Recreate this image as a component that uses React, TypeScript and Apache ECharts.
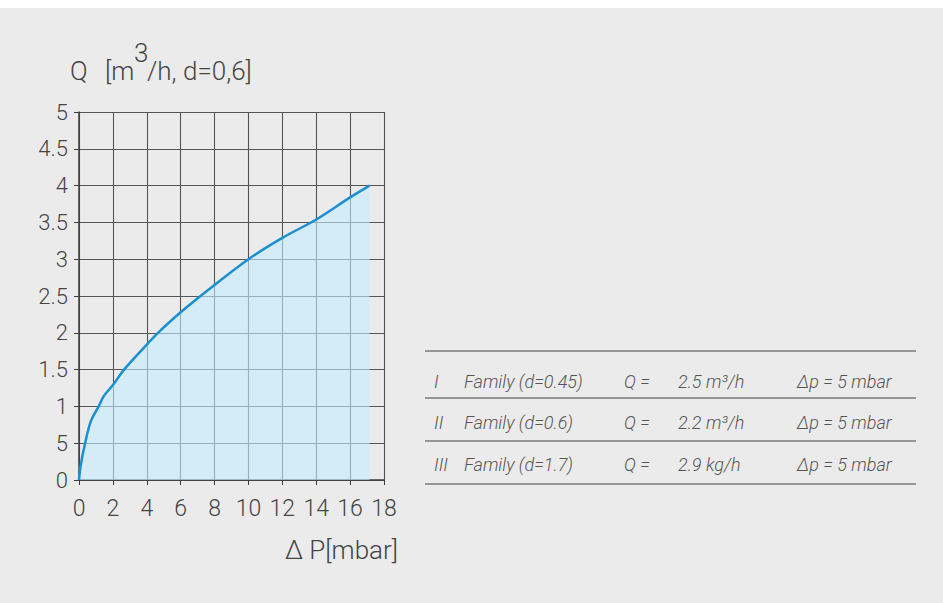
import React, { useEffect, useRef } from "react";
import * as echarts from "echarts";

const pressureDrop = [0, 0.1, 0.36, 0.7, 1.16, 1.46, 2, 2.66, 4, 4.66, 6, 8, 10, 12, 14, 16, 17.15];
const flowRate = [0, 0.2, 0.5, 0.8, 1.0, 1.14, 1.29, 1.5, 1.84, 2.0, 2.28, 2.65, 3.0, 3.29, 3.54, 3.84, 4.0];
const yTickLabels = ["0", "5", "1", "1.5", "2", "2.5", "3", "3.5", "4", "4.5", "5"];
const familyRoman = ["I", "II", "III"];
const familyNames = ["Family (d=0.45)", "Family (d=0.6)", "Family (d=1.7)"];
const flowTexts = ["2.5 m³/h", "2.2 m³/h", "2.9 kg/h"];
const dropTexts = ["Δp = 5 mbar", "Δp = 5 mbar", "Δp = 5 mbar"];

const FONT = "Roboto, 'Liberation Sans', sans-serif";

export default function App() {
  const ref = useRef<HTMLDivElement>(null);
  useEffect(() => {
    document.body.style.margin = "0";
    const chart = echarts.init(ref.current!, null, { renderer: "svg" });
    const lineYs = [351, 398, 441, 484];
    const rowYs = [381, 422, 464];
    const tableTexts: any[] = [];
    lineYs.forEach((y) =>
      tableTexts.push({
        type: "line",
        shape: { x1: 425, y1: y, x2: 916, y2: y },
        style: { stroke: "#7a7a7a", lineWidth: 1.5 },
      })
    );
    const cols = [
      { x: 434, arr: familyRoman },
      { x: 464, arr: familyNames },
      { x: 624, arr: rowYs.map(() => "Q =") },
      { x: 678, arr: flowTexts },
      { x: 797, arr: dropTexts },
    ];
    cols.forEach((c) =>
      c.arr.forEach((t, i) =>
        tableTexts.push({
          type: "text",
          x: c.x,
          y: rowYs[i],
          style: {
            text: t,
            fill: "#555",
            font: `italic 300 18px ${FONT}`,
            verticalAlign: "middle",
            align: "left",
          },
        })
      )
    );
    const titleFont = `300 26px ${FONT}`;
    chart.setOption({
      animation: false,
      backgroundColor: "#ffffff",
      grid: { left: 79, right: 559, top: 112, bottom: 123, show: false },
      graphic: [
        {
          type: "rect",
          z: -20,
          shape: { x: 0, y: 8, width: 943, height: 595 },
          style: { fill: "#ecebeb" },
        },
        { type: "text", x: 70, y: 84, style: { text: "Q", font: titleFont, fill: "#444", verticalAlign: "bottom" } },
        { type: "text", x: 105, y: 84, style: { text: "[m", font: titleFont, fill: "#444", verticalAlign: "bottom" } },
        { type: "text", x: 134, y: 66, style: { text: "3", font: titleFont, fill: "#444", verticalAlign: "bottom" } },
        { type: "text", x: 147, y: 84, style: { text: "/h, d=0,6]", font: titleFont, fill: "#444", verticalAlign: "bottom" } },
        {
          type: "text",
          x: 398,
          y: 563,
          style: {
            text: "Δ P[mbar]",
            font: titleFont,
            fill: "#444",
            align: "right",
            verticalAlign: "bottom",
          },
        },
        ...tableTexts,
      ],
      xAxis: {
        type: "value",
        min: 0,
        max: 18,
        interval: 2,
        axisLine: { show: true, lineStyle: { color: "#3c3c3c", width: 1.5 } },
        axisTick: { show: true, length: 5, lineStyle: { color: "#3c3c3c" } },
        axisLabel: { color: "#444", fontSize: 23, fontFamily: FONT, fontWeight: 300, margin: 17 },
        splitLine: { show: true, lineStyle: { color: "#555", width: 1.1 } },
      },
      yAxis: {
        type: "value",
        min: 0,
        max: 5,
        interval: 0.5,
        axisLine: { show: true, lineStyle: { color: "#3c3c3c", width: 1.5 } },
        axisTick: { show: true, length: 5, lineStyle: { color: "#3c3c3c" } },
        axisLabel: {
          color: "#444",
          fontSize: 22,
          fontFamily: FONT,
          fontWeight: 300,
          margin: 11,
          formatter: (v: number) => yTickLabels[Math.round(v / 0.5)] ?? String(v),
        },
        splitLine: { show: true, lineStyle: { color: "#555", width: 1.1 } },
      },
      series: [
        {
          type: "line",
          data: pressureDrop.map((x, i) => [x, flowRate[i]]),
          smooth: 0.35,
          showSymbol: false,
          symbol: "none",
          lineStyle: { color: "#1b8fd2", width: 2.5 },
          areaStyle: { color: "rgba(195,236,255,0.85)", origin: "start" },
        },
      ],
    });
    return () => chart.dispose();
  }, []);
  return <div ref={ref} style={{ width: 943, height: 603 }} />;
}
